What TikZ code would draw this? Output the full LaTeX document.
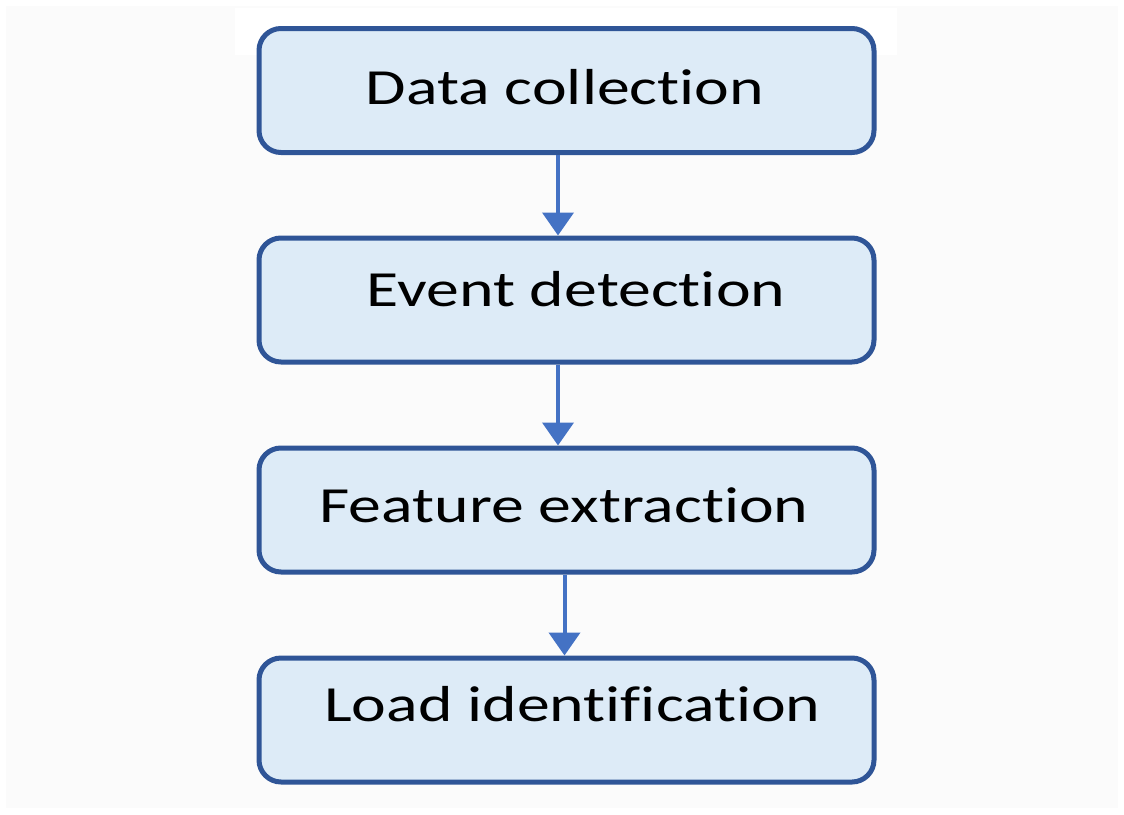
\documentclass[tikz,border=0pt]{standalone}
\usepackage{fontspec}
\usetikzlibrary{arrows.meta}
\newfontfamily\boxfont[FakeStretch=1.3,Ligatures={NoCommon,NoRare,NoDiscretionary}]{Carlito}
\definecolor{boxfill}{RGB}{221,235,247}
\definecolor{boxline}{RGB}{47,85,151}
\definecolor{flowline}{RGB}{68,114,196}
\definecolor{paper}{RGB}{251,251,251}
\tikzset{
  stage/.style={draw=boxline, line width=2.5pt, fill=boxfill, rounded corners=11pt,
    rectangle, minimum width=307.5pt, minimum height=62pt, inner sep=0pt},
  caption/.style={anchor=base, inner sep=0pt, font=\boxfont\fontsize{25.3}{30}\selectfont, text=black},
  flow/.style={draw=flowline, line width=2pt, -{Triangle[width=15.5pt,length=11.5pt]}}
}
\begin{document}
\begin{tikzpicture}[x=0.5pt,y=-0.5pt]
  % page and backdrop
  \fill[white] (0,0) rectangle (1124,814);
  \useasboundingbox (0,0) rectangle (1124,814);
  \fill[paper] (6,6) rectangle (1118,808);
  \fill[white] (235,8) rectangle (897,55);

  % process stages
  \node[stage] (b1) at (566.5,90.5) {};
  \node[stage] (b2) at (566.5,300) {};
  \node[stage] (b3) at (566.5,510) {};
  \node[stage] (b4) at (566.5,720) {};

  \node[caption] (t1) at (565,104) {Data collection};
  \node[caption] (t2) at (576,306) {Event detection};
  \node[caption] (t3) at (564,522) {Feature extraction};
  \node[caption] (t4) at (572.5,721) {Load identification};

  % connectors between stages
  \draw[flow] ([xshift=-4.25pt]b1.south) -- ([xshift=-4.25pt]b2.north);
  \draw[flow] ([xshift=-4.25pt]b2.south) -- ([xshift=-4.25pt]b3.north);
  \draw[flow] ([xshift=-1pt]b3.south) -- ([xshift=-1pt]b4.north);
\end{tikzpicture}
\end{document}
